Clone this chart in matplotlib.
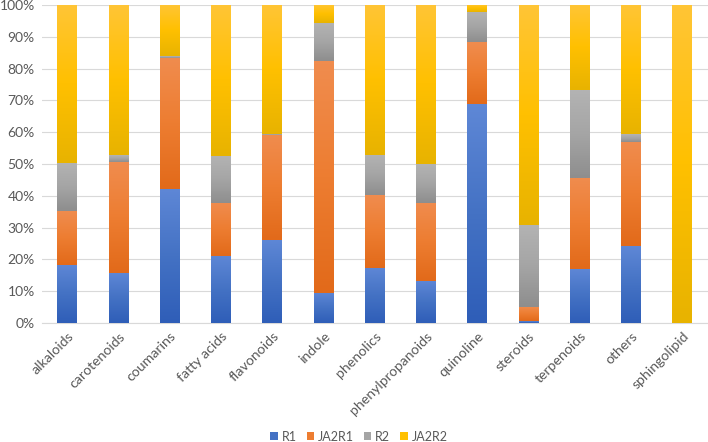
import numpy as np
import matplotlib.pyplot as plt
from matplotlib.colors import LinearSegmentedColormap

plt.rcParams['font.family'] = ['Lato', 'DejaVu Sans']

categories = ["alkaloids", "carotenoids", "coumarins", "fatty acids", "flavonoids",
              "indole", "phenolics", "phenylpropanoids", "quinoline", "steroids",
              "terpenoids", "others", "sphingolipid"]

# segment shares in percent
r1 = [18.4, 15.9, 42.2, 21.1, 26.1, 9.6, 17.3, 13.2, 68.8, 0.6, 17.0, 24.1, 0.0]
ja2r1 = [16.8, 34.8, 41.2, 16.7, 33.0, 72.9, 22.8, 24.6, 19.4, 4.4, 28.6, 32.9, 0.0]
r2 = [15.2, 2.1, 0.5, 14.6, 0.2, 11.8, 12.7, 12.2, 9.6, 25.9, 27.6, 2.3, 0.0]
ja2r2 = [49.6, 47.2, 16.1, 47.6, 40.7, 5.7, 47.2, 50.0, 2.2, 69.1, 26.8, 40.7, 100.0]

series = [("R1", r1, "#4472C4", "#5E87D6", "#2F5EB8"),
          ("JA2R1", ja2r1, "#ED7D31", "#F08C4E", "#E26A1A"),
          ("R2", r2, "#A5A5A5", "#B3B3B3", "#8E8E8E"),
          ("JA2R2", ja2r2, "#FFC000", "#FFC535", "#E8B300")]

fig = plt.figure(figsize=(7.08, 4.42), dpi=100)
ax = fig.add_axes([0.059, 0.269, 0.941, 0.72])

x = np.arange(len(categories))
width = 0.39
bottom = np.zeros(len(categories))
grad = np.linspace(0, 1, 64).reshape(-1, 1)
for name, vals, col, light, dark in series:
    vals = np.array(vals)
    bars = ax.bar(x, vals, width, bottom=bottom, color=col, label=name, zorder=2)
    cmap = LinearSegmentedColormap.from_list(name, [dark, col, light])
    for b, v in zip(bars, vals):
        if v <= 0:
            continue
        x0, y0 = b.get_x(), b.get_y()
        im = ax.imshow(grad, cmap=cmap, origin='lower', aspect='auto',
                       extent=[x0, x0 + b.get_width(), y0, y0 + b.get_height()],
                       zorder=3, interpolation='bilinear')
        im.set_clip_path(b)
    bottom += vals

ax.set_xlim(-0.5, 12.5)
ax.set_ylim(0, 100)
ax.set_yticks(np.arange(0, 101, 10))
ax.set_yticklabels([f"{v}%" for v in range(0, 101, 10)], fontsize=10, color="#595959")
ax.set_xticks(x)
ax.set_xticklabels(categories, rotation=45, ha='right', rotation_mode='anchor',
                   fontsize=10.2, color="#595959")
ax.tick_params(length=0, pad=5)
ax.grid(axis='y', color="#D9D9D9", linewidth=0.8, zorder=0)
for s in ["top", "right", "left"]:
    ax.spines[s].set_visible(False)
ax.spines["bottom"].set_color("#D9D9D9")

fig.legend(loc='center', bbox_to_anchor=(0.507, 0.012), ncol=4, frameon=False,
           fontsize=9, handlelength=0.6, handleheight=0.6, handletextpad=0.3,
           columnspacing=0.8, labelcolor="#595959")

fig.savefig("out.png", dpi=100)
